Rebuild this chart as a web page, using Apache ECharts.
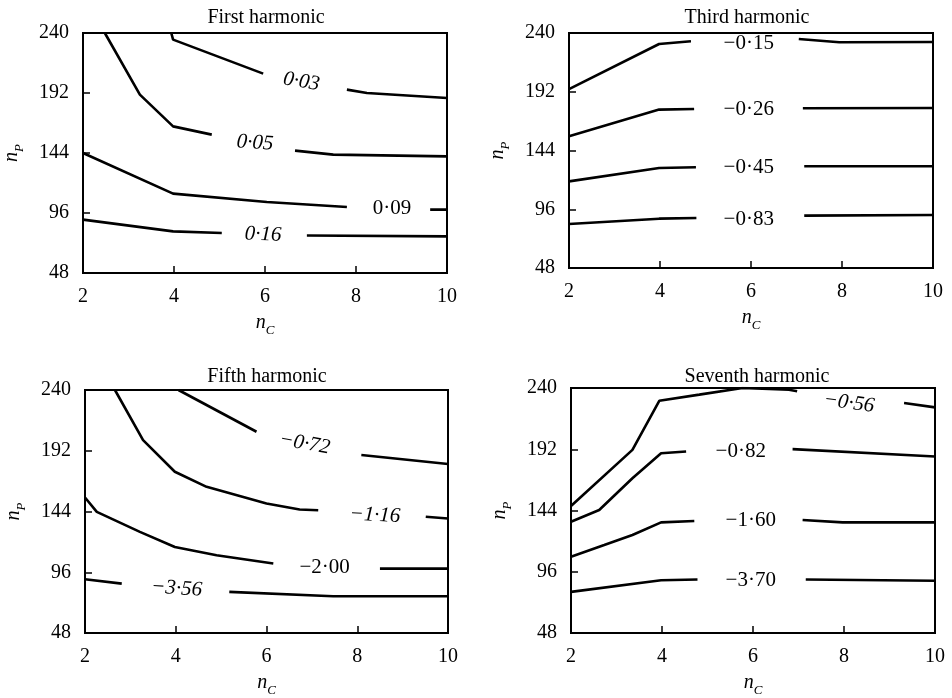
<!DOCTYPE html>
<html>
<head>
<meta charset="utf-8">
<script src="https://cdn.jsdelivr.net/npm/echarts@6/dist/echarts.min.js"></script>
<style>html,body{margin:0;background:#fff}#chart{width:952px;height:698px}</style>
</head>
<body>
<div id="chart"></div>
<script>
const titles = ['First harmonic', 'Third harmonic', 'Fifth harmonic', 'Seventh harmonic'];
const xMin = 2, xMax = 10, xStep = 2;
const yMin = 48, yMax = 240, yStep = 48;

// contour lines, [n_C, n_P]; each contour is broken where its label sits
const first = [
  [[[3.94, 240], [3.98, 234.7], [5.96, 207.5]], [[7.80, 194.7], [8.24, 192], [10, 188]]],
  [[[2.48, 240], [3.25, 190.7], [3.98, 165.3], [4.83, 158.7]], [[6.66, 145.9], [7.5, 142.7], [10, 141.3]]],
  [[[2, 144], [3.98, 111.5], [6.04, 104.8], [7.80, 100.8]], [[9.63, 98.7], [10, 98.7]]],
  [[[2, 90.7], [3.98, 81.3], [5.05, 80]], [[6.92, 78], [10, 77.3]]]
];
const third = [
  [[[2, 194.2], [3.98, 231], [4.68, 233.2]], [[7.05, 235.1], [7.94, 232.4], [10, 232.6]]],
  [[[2, 155.6], [3.98, 177.4], [4.75, 177.9]], [[7.14, 178.5], [10, 178.7]]],
  [[[2, 118.8], [3.98, 129.7], [4.79, 130.3]], [[7.17, 131.1], [10, 131.1]]],
  [[[2, 84], [3.98, 88.3], [4.80, 88.9]], [[7.17, 90.8], [10, 91.3]]]
];
const fifth = [
  [[[4.06, 240], [5.78, 207]], [[8.09, 188.6], [10, 181.5]]],
  [[[2.66, 240], [3.28, 200.4], [3.98, 175.4], [4.68, 163.5], [6.0, 150.3], [6.73, 145.6], [7.14, 145]], [[9.51, 139.8], [10, 138.5]]],
  [[[2, 155.1], [2.26, 143.7], [3.21, 127.9], [3.98, 116], [4.90, 109.4], [6.15, 102.9]], [[8.50, 98.9], [10, 98.9]]],
  [[[2, 90.5], [2.81, 87]], [[5.18, 80.5], [7.47, 77], [10, 77]]]
];
const seventh = [
  [[[2, 147.5], [3.35, 191.5], [3.94, 230], [4.82, 234.8], [5.77, 240], [6.79, 238.7], [6.97, 237.4]], [[9.32, 228.2], [10, 224.8]]],
  [[[2, 135.2], [2.62, 144.4], [3.35, 169.3], [3.98, 188.9], [4.53, 190.2]], [[6.87, 192.1], [10, 186.3]]],
  [[[2, 107.7], [2.73, 116.9], [3.35, 124.8], [3.98, 134.7], [4.71, 135.8]], [[7.09, 136.6], [7.97, 134.7], [10, 134.7]]],
  [[[2, 80.2], [3.98, 89.3], [4.78, 89.9]], [[7.16, 89.9], [10, 88.9]]]
];

// contour level labels: [text, n_C, n_P]
const firstLabels = [['0·03', 6.80, 201], ['0·05', 5.78, 152], ['0·09', 8.79, 100], ['0·16', 5.96, 78.7]];
const thirdLabels = [['−0·15', 5.95, 231.8], ['−0·26', 5.95, 177.9], ['−0·45', 5.95, 130.3], ['−0·83', 5.95, 88.0]];
const fifthLabels = [['−0·72', 6.84, 197.6], ['−1·16', 8.39, 141], ['−2·00', 7.28, 99.4], ['−3·56', 4.02, 83.1]];
const seventhLabels = [['−0·56', 8.11, 228.2], ['−0·82', 5.73, 190.2], ['−1·60', 5.95, 135.8], ['−3·70', 5.95, 88.9]];

const panelLines = [first, third, fifth, seventh];
const panelLabels = [firstLabels, thirdLabels, fifthLabels, seventhLabels];
// label rotation (deg) and italic flag, same order as labels
const labelRot = [[-9, -4, 0, -2], [0, 0, 0, 0], [-10, -3, 0, -4], [-8, 0, 0, 0]];
const labelItalic = [[true, true, false, true], [false, false, false, false], [true, true, false, true], [true, false, false, false]];

const font = 'Liberation Serif';
const grids = [
  {left: 83, top: 33, width: 364, height: 240},
  {left: 569, top: 33, width: 364, height: 235},
  {left: 85, top: 390, width: 363, height: 243},
  {left: 571, top: 388, width: 364, height: 245}
];
const titlePos = [[261, 3], [742, 3], [262, 362], [752, 362]];

const chart = echarts.init(document.getElementById('chart'));
const nameRich = {
  n: {fontFamily: font, fontStyle: 'italic', fontSize: 20, color: '#000', lineHeight: 24, verticalAlign: 'bottom'},
  s: {fontFamily: font, fontStyle: 'italic', fontSize: 13, color: '#000', lineHeight: 24, verticalAlign: 'bottom', padding: [0, 0, -4, 0]}
};

option = {
  animation: false,
  backgroundColor: '#fff',
  title: titles.map((t, i) => ({
    text: t, left: titlePos[i][0], top: titlePos[i][1], textAlign: 'center',
    textStyle: {fontFamily: font, fontSize: 20, fontWeight: 'normal', color: '#000'}
  })),
  grid: grids.map(g => Object.assign({show: true, borderColor: '#000', borderWidth: 2, backgroundColor: 'transparent'}, g)),
  xAxis: grids.map((g, i) => ({
    type: 'value', gridIndex: i, min: xMin, max: xMax, interval: xStep,
    name: '{n|n}{s|C}', nameLocation: 'middle', nameGap: 36,
    nameTextStyle: {rich: nameRich},
    axisLine: {lineStyle: {color: '#000', width: 2}},
    axisTick: {inside: true, length: 7, lineStyle: {color: '#000', width: 1.5}},
    axisLabel: {fontFamily: font, fontSize: 20, color: '#000', margin: 14},
    splitLine: {show: false}
  })),
  yAxis: grids.map((g, i) => ({
    type: 'value', gridIndex: i, min: yMin, max: yMax, interval: yStep,
    name: '{n|n}{s|P}', nameLocation: 'middle', nameGap: 61,
    nameTextStyle: {rich: nameRich},
    axisLine: {lineStyle: {color: '#000', width: 2}},
    axisTick: {inside: true, length: 7, lineStyle: {color: '#000', width: 1.5}},
    axisLabel: {fontFamily: font, fontSize: 20, color: '#000', margin: 14},
    splitLine: {show: false}
  })),
  series: []
};

panelLines.forEach((contours, p) => {
  contours.forEach(segs => {
    segs.forEach(seg => {
      option.series.push({
        type: 'line', xAxisIndex: p, yAxisIndex: p,
        data: seg, showSymbol: false, symbol: 'none', silent: true,
        lineStyle: {color: '#000', width: 2.6}
      });
    });
  });
  option.series.push({
    type: 'scatter', xAxisIndex: p, yAxisIndex: p, symbolSize: 0,
    itemStyle: {color: '#000', opacity: 1}, silent: true,
    data: panelLabels[p].map((l, k) => ({
      value: [l[1], l[2]], name: l[0],
      label: {rotate: labelRot[p][k], fontStyle: labelItalic[p][k] ? 'italic' : 'normal'}
    })),
    label: {
      show: true, position: 'inside', formatter: d => d.name,
      fontFamily: font, fontSize: 21, color: '#000'
    }
  });
});

chart.setOption(option);
</script>
</body>
</html>
